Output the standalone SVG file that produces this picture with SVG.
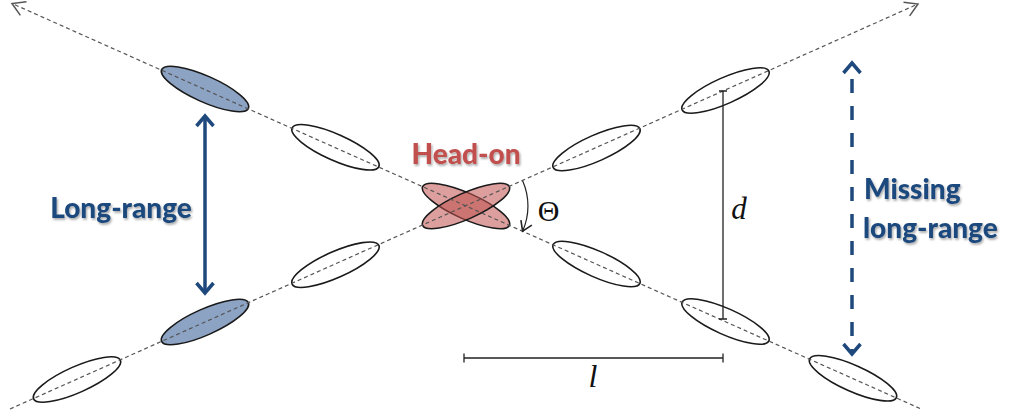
<svg xmlns="http://www.w3.org/2000/svg" width="1011" height="417" viewBox="0 0 1011 417">
<style>
.ell{stroke:#1a1a1a;stroke-width:1.6}
.white{fill:#ffffff}
.blue{fill:#8da3c4}
.red{fill:#c0504d;fill-opacity:0.55}
.axis{fill:none;stroke:#555;stroke-width:1.2;stroke-dasharray:4 3}
.blueArrow{fill:none;stroke:#1f497d;stroke-width:3.5}
.lab{font-family:Lato,"Open Sans",sans-serif;font-weight:900;font-size:28px}
.math{font-family:"Liberation Serif","DejaVu Serif",serif;fill:#111}
.dim{fill:none;stroke:#222;stroke-width:1.3}
</style>
<defs>
<marker id="openHead" markerUnits="userSpaceOnUse" markerWidth="20" markerHeight="20" viewBox="-12 -8 14 16" refX="0" refY="0" orient="auto">
<path d="M-10,-6 L0,0 L-10,6" fill="none" stroke="#555" stroke-width="1.2"/>
</marker>
<marker id="blueHead" markerUnits="userSpaceOnUse" markerWidth="24" markerHeight="24" viewBox="-14 -12 18 24" refX="0" refY="0" orient="auto-start-reverse">
<path d="M-10,-8.5 L0,0 L-10,8.5" fill="none" stroke="#1f497d" stroke-width="3.5" stroke-linejoin="miter"/>
</marker>
<marker id="thetaHead" markerUnits="userSpaceOnUse" markerWidth="16" markerHeight="16" viewBox="-10 -6 12 12" refX="0" refY="0" orient="auto">
<path d="M-7,-4.5 L0,0 L-7,4.5" fill="none" stroke="#222" stroke-width="1.2"/>
</marker>
<filter id="shadow" x="-10%" y="-20%" width="120%" height="150%">
<feDropShadow dx="1.2" dy="1.8" stdDeviation="1" flood-color="#000" flood-opacity="0.35"/>
</filter>
</defs>

<!-- line 1 ellipses (descending) -->
<g id="n1a"><ellipse class="ell blue" cx="205" cy="89" rx="47.5" ry="13" transform="rotate(24.04 205 89)"/></g>
<g id="n1b"><ellipse class="ell white" cx="335.5" cy="147.3" rx="47.5" ry="13" transform="rotate(24.04 335.5 147.3)"/></g>
<g id="n1d"><ellipse class="ell white" cx="596.5" cy="264" rx="47.5" ry="13" transform="rotate(24.04 596.5 264)"/></g>
<g id="n1e"><ellipse class="ell white" cx="725.5" cy="321.5" rx="47.5" ry="13" transform="rotate(24.04 725.5 321.5)"/></g>
<g id="n1f"><ellipse class="ell white" cx="853" cy="378.3" rx="47.5" ry="13" transform="rotate(24.04 853 378.3)"/></g>

<!-- line 2 ellipses (ascending) -->
<g id="n2a"><ellipse class="ell white" cx="77" cy="379.5" rx="47.5" ry="13" transform="rotate(-24.04 77 379.5)"/></g>
<g id="n2b"><ellipse class="ell blue" cx="205" cy="322" rx="47.5" ry="13" transform="rotate(-24.04 205 322)"/></g>
<g id="n2c"><ellipse class="ell white" cx="335.5" cy="264.7" rx="47.5" ry="13" transform="rotate(-24.04 335.5 264.7)"/></g>
<g id="n2d"><ellipse class="ell white" cx="596.5" cy="148" rx="47.5" ry="13" transform="rotate(-24.04 596.5 148)"/></g>
<g id="n2e"><ellipse class="ell white" cx="725.5" cy="90.5" rx="47.5" ry="13" transform="rotate(-24.04 725.5 90.5)"/></g>

<!-- head-on pair -->
<g id="headon">
<ellipse class="ell red" cx="466" cy="206" rx="47.5" ry="13" transform="rotate(24.04 466 206)"/>
<ellipse class="ell red" cx="466" cy="206" rx="47.5" ry="13" transform="rotate(-24.04 466 206)"/>
<text class="lab" x="466" y="164" text-anchor="middle" fill="#c0504d" filter="url(#shadow)">Head-on</text>
</g>

<g id="connectors">
<line class="axis" x1="920" y1="408.5" x2="12" y2="3.5" marker-end="url(#openHead)"/>
<line class="axis" x1="10" y1="409" x2="918" y2="4" marker-end="url(#openHead)"/>
<line class="blueArrow" x1="205" y1="116" x2="205" y2="293" marker-start="url(#blueHead)" marker-end="url(#blueHead)"/>
<line class="blueArrow" x1="852" y1="63" x2="852" y2="354" stroke-dasharray="14 13" stroke-dashoffset="-16" marker-start="url(#blueHead)" marker-end="url(#blueHead)"/>
<path d="M522.6,180.8 A62,62 0 0 1 522.6,231.2" fill="none" stroke="#222" stroke-width="1.2" marker-end="url(#thetaHead)"/>
<path class="dim" d="M723,91 V319 M719,91 H727 M719,319 H727"/>
<path class="dim" d="M464,358 H723 M464,353.5 V362.5 M723,353.5 V362.5"/>
</g>

<g id="labels">
<text class="lab" x="121" y="218" text-anchor="middle" fill="#1f497d" filter="url(#shadow)">Long-range</text>
<text class="lab" x="864" y="199" fill="#1f497d" filter="url(#shadow)">Missing</text>
<text class="lab" x="863" y="238" fill="#1f497d" filter="url(#shadow)">long-range</text>
<text class="math" x="548.5" y="221" font-size="30" text-anchor="middle">Θ</text>
<text class="math" x="739" y="219" font-size="31" font-style="italic" text-anchor="middle">d</text>
<text class="math" x="593" y="387" font-size="32" font-style="italic" text-anchor="middle">l</text>
</g>
</svg>
